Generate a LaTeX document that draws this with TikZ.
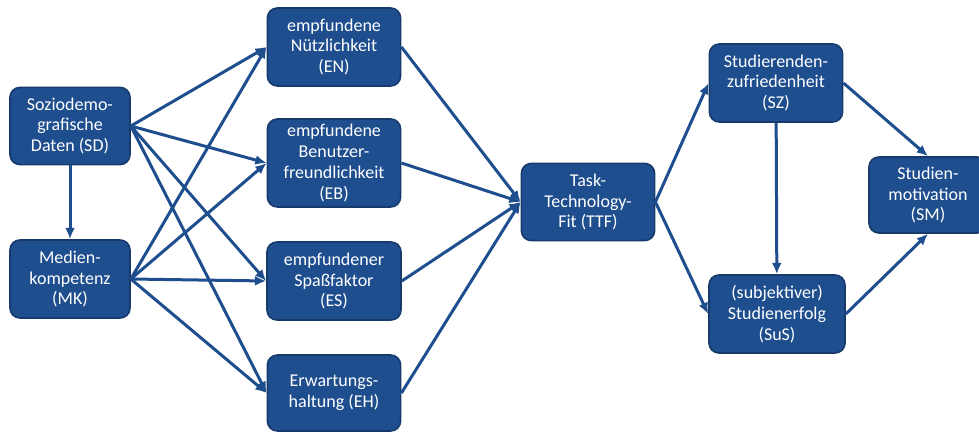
\documentclass[tikz,border=0pt]{standalone}
\usepackage{fontspec}
\setmainfont{Carlito}
\usepackage{tikz}
\usepackage{color}
\usetikzlibrary{arrows.meta}
\definecolor{boxblue}{RGB}{30,78,142}
\definecolor{boxedge}{RGB}{22,58,108}
\tikzset{
  box/.style={draw=boxedge, fill=boxblue, line width=0.04cm, rounded corners=0.25cm,
    text=white, align=center, inner sep=2pt,
    font=\fontsize{12.8}{14.9}\selectfont},
  link/.style={-{Latex[length=8pt,width=7pt]}, draw=boxblue, line width=0.075cm}
}

\begin{document}
\begin{tikzpicture}[x=0.025cm,y=-0.025cm]
\useasboundingbox (0,0) rectangle (979,432);
\node[box, minimum width=3.0cm, minimum height=1.93cm] (SD) at (70,126) {Soziodemo-\\grafische\\Daten (SD)};
\node[box, minimum width=3.0cm, minimum height=1.95cm] (MK) at (70,279) {Medien-\\kompetenz\\(MK)};
\node[box, minimum width=3.33cm, minimum height=1.95cm] (EN) at (334,47) {empfundene\\Nützlichkeit\\(EN)};
\node[box, minimum width=3.33cm, minimum height=2.2cm] (EB) at (334,163) {empfundene\\Benutzer-\\freundlichkeit\\(EB)};
\node[box, minimum width=3.35cm, minimum height=1.95cm] (ES) at (334,281) {empfundener\\Spaßfaktor\\(ES)};
\node[box, minimum width=3.33cm, minimum height=1.9cm] (EH) at (334,393) {Erwartungs-\\haltung (EH)};
\node[box, minimum width=3.33cm, minimum height=1.93cm] (TTF) at (588,202) {Task-\\Technology-\\Fit (TTF)};
\node[box, minimum width=3.33cm, minimum height=1.95cm] (SZ) at (776,83) {Studierenden-\\zufriedenheit\\(SZ)};
\node[box, minimum width=3.4cm, minimum height=1.95cm] (SuS) at (777,314) {(subjektiver)\\Studienerfolg\\(SuS)};
\node[box, minimum width=2.95cm, minimum height=1.9cm] (SM) at (928,195) {Studien-\\motivation\\(SM)};
\draw[link] (SD) -- (MK);
\foreach \t in {EN,EB,ES,EH} {
  \draw[link] (SD.east) -- (\t.west);
  \draw[link] (MK.east) -- (\t.west);
  \draw[link] (\t.east) -- (TTF.west);
}
\draw[link] (TTF.east) -- (SZ.west);
\draw[link] (TTF.east) -- (SuS.west);
\draw[link] (SZ) -- (SuS);
\draw[link] (SZ.east) -- (SM.north);
\draw[link] (SuS.east) -- (SM.south);
\end{tikzpicture}
\end{document}
